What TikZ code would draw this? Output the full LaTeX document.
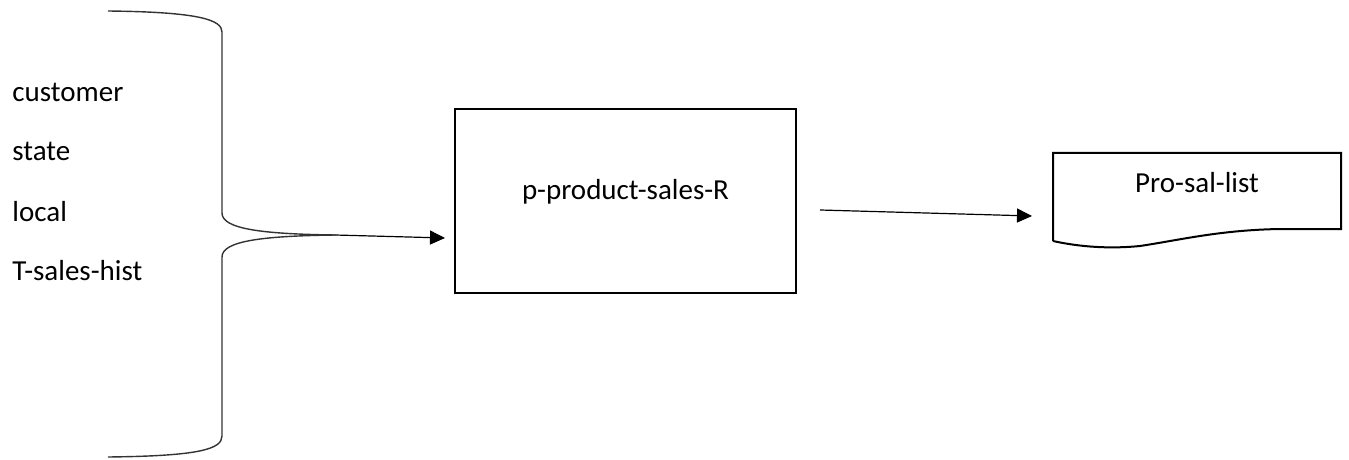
\documentclass[tikz,border=0pt]{standalone}
\usepackage{fontspec}
\setmainfont{Carlito}
\usepackage{tikz}
\usetikzlibrary{arrows.meta,positioning}

\begin{document}
\begin{tikzpicture}[
      x=0.5pt, y=-0.5pt,
      font=\fontsize{14.5pt}{17pt}\selectfont,
      box/.style={draw, line width=1pt, minimum width=170.5pt,
                  minimum height=92pt, text height=10pt, text depth=12pt},
      item/.style={anchor=base west, inner sep=0pt},
      arr/.style={-{Triangle[length=7.5pt, width=7pt]}, line width=0.6pt},
      brace/.style={line width=0.7pt, draw=black!80}
    ]
    \useasboundingbox (0,0) rectangle (1349,460);

    % Input list
    \node[item] (cust)  at (12,102) {customer};
    \node[item] (state) at (12,161) {state};
    \node[item] (local) at (12,221) {local};
    \node[item] (hist)  at (12,280) {T-sales-hist};

    % Brace round the list
    \coordinate (brtip) at (335,235);
    \draw[brace] (108,11) .. controls (200,12) and (222,20) .. (222,32)
          -- (222,213) .. controls (222,229) and (262,234) .. (brtip);
    \draw[brace] (brtip) .. controls (262,236) and (222,241) .. (222,257)
          -- (222,436) .. controls (222,449) and (200,456) .. (108,457);

    % Process
    \node[box] (proc) at (625.5,201) {p-product-sales-R};
    \coordinate (procin) at (445,238);
    \draw[arr] (brtip) -- (procin);

    % Output document
    \draw[line width=1pt] (1053,241) -- (1053,153) -- (1341,153) -- (1341,229)
          -- (1280,229) .. controls (1220,230) and (1180,240) .. (1140,246)
          .. controls (1110,249) and (1080,247) .. (1053,241);
    \node[anchor=base, inner sep=0pt] (doc) at (1197,192) {Pro-sal-list};
    \coordinate (procout) at (820,210);
    \coordinate (docin) at (1032,216);
    \draw[arr] (procout) -- (docin);
  \end{tikzpicture}
\end{document}
